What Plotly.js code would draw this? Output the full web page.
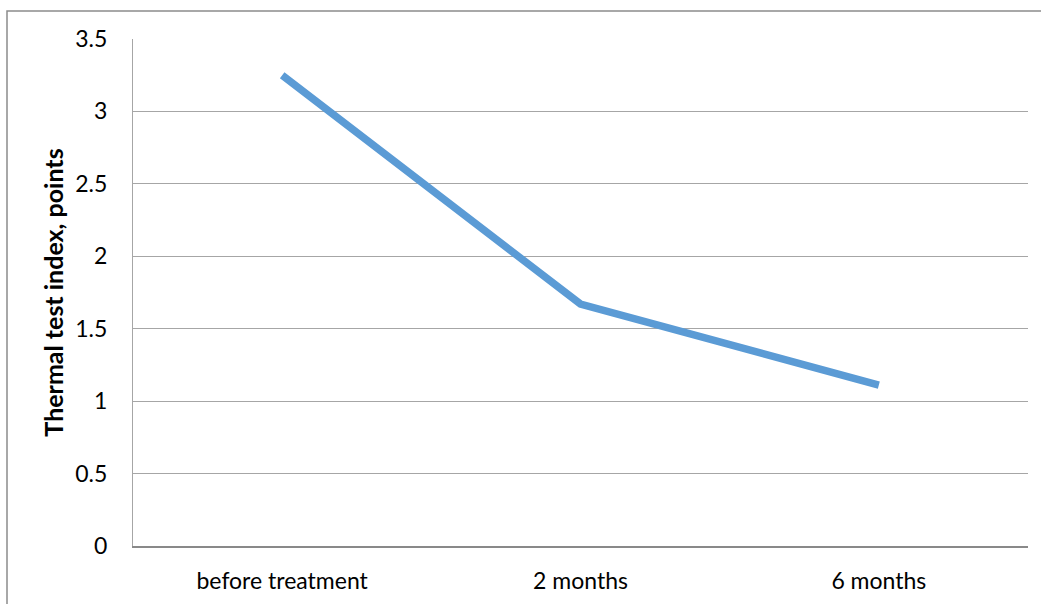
<!DOCTYPE html>
<html>
<head>
<meta charset="utf-8">
<script src="https://cdn.plot.ly/plotly-3.0.1.min.js"></script>
<style>html,body{margin:0;padding:0;background:#fff;}#chart{width:1041px;height:604px;}</style>
</head>
<body>
<div id="chart"></div>
<script>
const categories = ["before treatment", "2 months", "6 months"];
const values = [3.25, 1.67, 1.11];
const yTicks = [0, 0.5, 1, 1.5, 2, 2.5, 3, 3.5];
const yTickLabels = ["0", "0.5", "1", "1.5", "2", "2.5", "3", "3.5"];
const yTitle = "Thermal test index, points";

const font = "Lato, 'Open Sans', sans-serif";
const trace = {
  x: categories,
  y: values,
  type: "scatter",
  mode: "lines",
  line: {color: "#5B9BD5", width: 7.5, shape: "linear"},
  hoverinfo: "x+y"
};
const layout = {
  width: 1041, height: 604,
  margin: {l: 133, r: 13, t: 39, b: 58},
  paper_bgcolor: "#fff", plot_bgcolor: "#fff",
  showlegend: false,
  font: {family: font, size: 22, color: "#000"},
  xaxis: {
    type: "category",
    range: [-0.5, 2.5],
    showgrid: false, zeroline: false,
    showline: true, linecolor: "#898989", linewidth: 2,
    ticks: "", ticklabelstandoff: 13,
    tickfont: {family: font, size: 23, color: "#000"}
  },
  yaxis: {
    range: [0, 3.5],
    tickvals: yTicks, ticktext: yTickLabels,
    showgrid: true, gridcolor: "#A6A6A6", gridwidth: 1,
    zeroline: false,
    showline: true, linecolor: "#A6A6A6", linewidth: 1,
    ticks: "", ticklabelstandoff: 20,
    tickfont: {family: font, size: 23, color: "#000"},
    title: {text: "<b>" + yTitle + "</b>", font: {family: font, size: 25, color: "#000"}, standoff: 4}
  },
  shapes: [{
    type: "rect", xref: "paper", yref: "paper",
    x0: (7 - 133) / 895, x1: 1.05,
    y0: -0.2, y1: 1 + (39 - 11) / 507,
    line: {color: "#8C8C8C", width: 1.5}, fillcolor: "rgba(0,0,0,0)", layer: "below"
  }]
};
Plotly.newPlot("chart", [trace], layout, {displayModeBar: false, staticPlot: true});
</script>
</body>
</html>
